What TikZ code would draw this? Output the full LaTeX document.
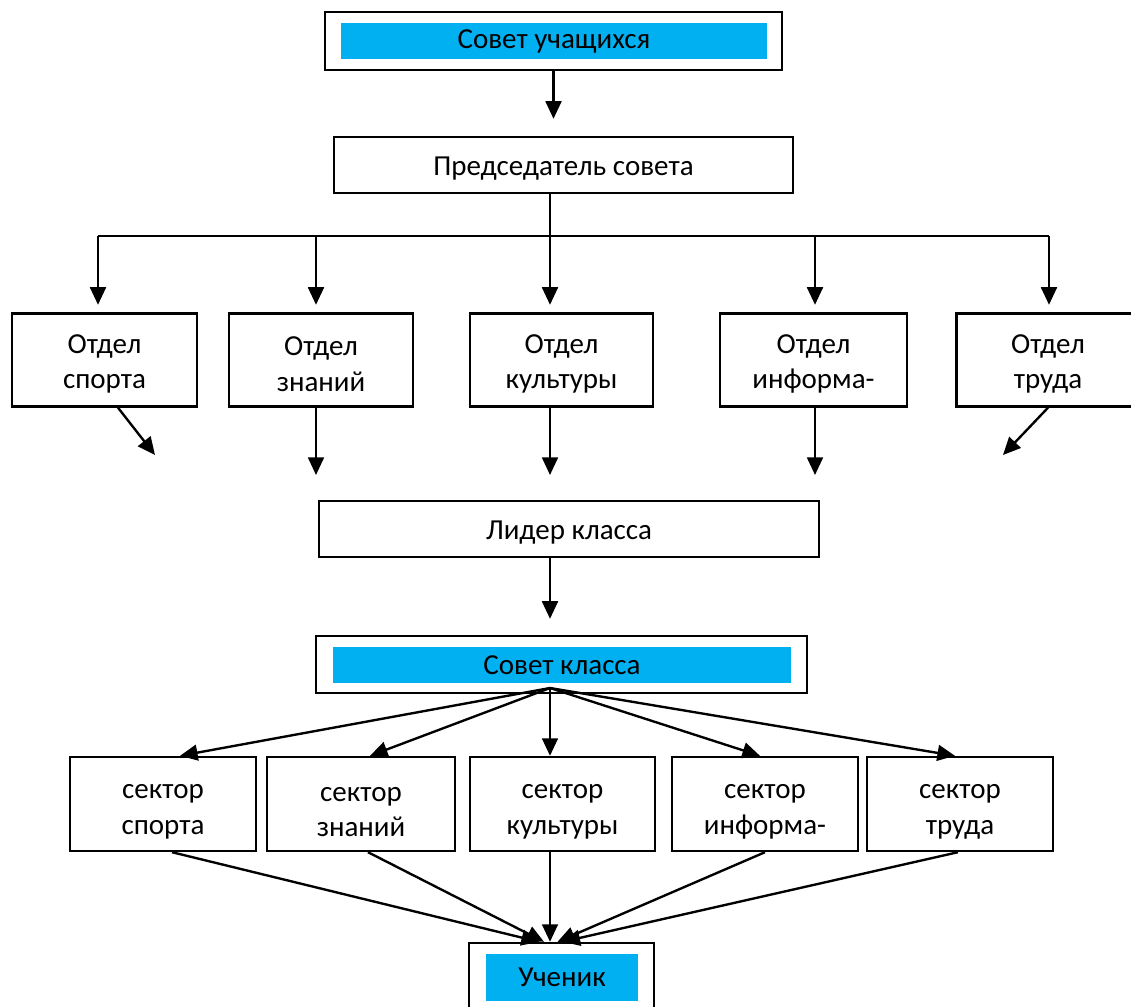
\documentclass[tikz,border=0pt]{standalone}
\usepackage{fontspec}
\setmainfont{Carlito}
\usetikzlibrary{arrows.meta, calc}
\definecolor{barblue}{RGB}{0,176,240}

\begin{document}
\begin{tikzpicture}[
    line width=1.35pt,
    font=\fontsize{16.5}{20.3}\selectfont,
    box/.style={draw, align=center, inner sep=0pt},
    bar/.style={fill=barblue, inner sep=0pt},
    arr/.style={-{Triangle[length=10pt, width=9pt]}}
]
    \useasboundingbox (0,0) rectangle (22.62,-20.14);
    % top: council and chairman
    \node [box, minimum width=9.14cm, minimum height=1.16cm] (council) at (11.07,-0.82) {};
    \node [bar, minimum width=8.52cm, minimum height=0.72cm] (councilbar) at (11.08,-0.82) {Совет учащихся};
    \node [box, minimum width=9.18cm, minimum height=1.12cm] (chair) at (11.27,-3.3) {};
    \node (chairtext) at ([yshift=-0.08cm]chair) {Председатель совета};
    \draw [arr, shorten >=0.34cm] (council.south) -- (chair.north -| council.south);
    % departments
    \foreach \n/\x/\w/\t in {1/2.09/3.7/{Отдел\\спорта}, 2/6.42/3.68/{Отдел\\знаний},
            3/11.23/3.66/{Отдел\\культуры}, 4/16.27/3.74/{Отдел\\информа-}, 5/20.96/3.66/{Отдел\\труда}} {
        \node [box, minimum width=\w cm, minimum height=1.86cm] (dept\n) at (\x,-7.2) {};
        \node [align=center] (dept\n text) at ([yshift=-0.08cm]dept\n) {\t};
    }
    \foreach \n/\x in {1/1.96, 2/6.32, 3/11.0, 4/16.3, 5/20.98}
        \coordinate (bus\n) at (\x,-4.72);
    \draw (bus1) -- (bus5);
    \draw (chair.south -| bus3) -- (bus3);
    \foreach \n in {1,...,5}
        \draw [arr, shorten >=0.15cm] (bus\n) -- (bus\n |- dept\n.north);
    % arrows down to the class leader
    \coordinate (t1) at (3.1,-9.1);
    \coordinate (t2) at (6.32,-9.5);
    \coordinate (t3) at (11.0,-9.5);
    \coordinate (t4) at (16.3,-9.5);
    \coordinate (t5) at (20.06,-9.1);
    \draw [arr] ([xshift=0.27cm]dept1.south) -- (t1);
    \foreach \n in {2,3,4}
        \draw [arr] (dept\n.south -| t\n) -- (t\n);
    \draw [arr] (dept5.south) -- (t5);
    % class leader and class council
    \node [box, minimum width=10cm, minimum height=1.12cm] (leader) at (11.38,-10.58) {};
    \node (leadertext) at ([yshift=-0.08cm]leader) {Лидер класса};
    \node [box, minimum width=9.82cm, minimum height=1.14cm] (class) at (11.23,-13.29) {};
    \node [bar, minimum width=9.16cm, minimum height=0.72cm] (classbar) at (11.24,-13.3) {Совет класса};
    \draw [arr, shorten >=0.32cm] (leader.south -| bus3) -- (class.north -| bus3);
    % sectors
    \foreach \n/\x/\w/\t in {1/3.26/3.72/{сектор\\спорта}, 2/7.22/3.76/{сектор\\знаний},
            3/11.25/3.7/{сектор\\культуры}, 4/15.3/3.72/{сектор\\информа-}, 5/19.2/3.72/{сектор\\труда}} {
        \node [box, minimum width=\w cm, minimum height=1.88cm] (sector\n) at (\x,-16.08) {};
        \node [align=center] (sector\n text) at ([yshift=-0.16cm]sector\n) {\t};
    }
    \coordinate (hub) at (11.0,-13.76);
    \foreach \n/\dx in {1/0.34, 2/0.18, 3/-0.25, 4/-0.1, 5/-0.1}
        \draw [arr] (hub) -- ([xshift=\dx cm]sector\n.north);
    % pupil
    \node [box, minimum width=3.7cm, minimum height=1.6cm] (pupil) at (11.23,-19.66) {};
    \node [bar, minimum width=3.04cm, minimum height=0.94cm] (pupilbar) at (11.24,-19.55) {Ученик};
    \foreach \n/\sx/\ex in {1/0.18/-0.45, 2/0.14/-0.35, 3/-0.25/-0.23, 4/0/-0.08, 5/-0.04/0.02}
        \draw [arr] ([xshift=\sx cm]sector\n.south) -- ([xshift=\ex cm]pupil.north);
\end{tikzpicture}
\end{document}
